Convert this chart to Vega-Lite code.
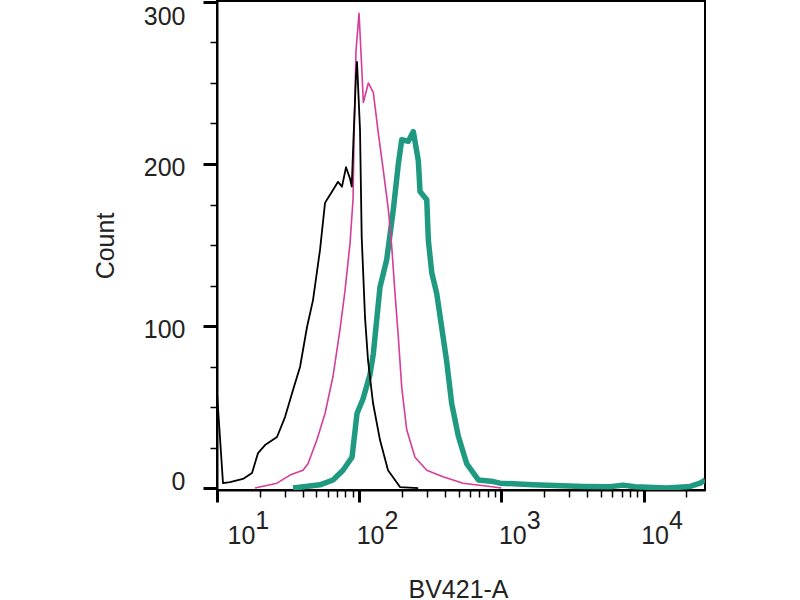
{
  "$schema": "https://vega.github.io/schema/vega-lite/v6.json",
  "width": 488,
  "height": 489,
  "autosize": {"type": "none"},
  "padding": {"left": 217, "top": 1, "right": 95, "bottom": 110},
  "background": "white",
  "config": {
    "view": {"stroke": "black", "strokeWidth": 2},
    "font": "Liberation Sans"
  },
  "data": {
    "values": [
      {"sample": "stained", "intensity": 34.23, "count": 0},
      {"sample": "stained", "intensity": 53.01, "count": 2},
      {"sample": "stained", "intensity": 65.43, "count": 5},
      {"sample": "stained", "intensity": 76.92, "count": 11},
      {"sample": "stained", "intensity": 89.0, "count": 19},
      {"sample": "stained", "intensity": 96.5, "count": 46},
      {"sample": "stained", "intensity": 106.3, "count": 55},
      {"sample": "stained", "intensity": 119.1, "count": 70},
      {"sample": "stained", "intensity": 125.7, "count": 83},
      {"sample": "stained", "intensity": 140.0, "count": 124},
      {"sample": "stained", "intensity": 156.1, "count": 141},
      {"sample": "stained", "intensity": 173.8, "count": 172},
      {"sample": "stained", "intensity": 188.4, "count": 200},
      {"sample": "stained", "intensity": 199.1, "count": 215},
      {"sample": "stained", "intensity": 221.5, "count": 214},
      {"sample": "stained", "intensity": 240.2, "count": 220},
      {"sample": "stained", "intensity": 260.4, "count": 202},
      {"sample": "stained", "intensity": 267.7, "count": 183},
      {"sample": "stained", "intensity": 298.4, "count": 178},
      {"sample": "stained", "intensity": 306.2, "count": 153},
      {"sample": "stained", "intensity": 323.6, "count": 133},
      {"sample": "stained", "intensity": 350.8, "count": 120},
      {"sample": "stained", "intensity": 380.4, "count": 99},
      {"sample": "stained", "intensity": 412.3, "count": 78},
      {"sample": "stained", "intensity": 447.3, "count": 52},
      {"sample": "stained", "intensity": 497.8, "count": 32},
      {"sample": "stained", "intensity": 570.2, "count": 15},
      {"sample": "stained", "intensity": 688.0, "count": 5},
      {"sample": "stained", "intensity": 877.0, "count": 4},
      {"sample": "stained", "intensity": 977.6, "count": 3},
      {"sample": "stained", "intensity": 1668, "count": 2},
      {"sample": "stained", "intensity": 3748, "count": 1},
      {"sample": "stained", "intensity": 5803, "count": 0.8},
      {"sample": "stained", "intensity": 7164, "count": 1.8},
      {"sample": "stained", "intensity": 8700, "count": 0.8},
      {"sample": "stained", "intensity": 14610, "count": 0},
      {"sample": "stained", "intensity": 21210, "count": 1},
      {"sample": "stained", "intensity": 24930, "count": 3},
      {"sample": "stained", "intensity": 27030, "count": 5},

      {"sample": "isotype", "intensity": 18.5, "count": 0},
      {"sample": "isotype", "intensity": 26.42, "count": 3},
      {"sample": "isotype", "intensity": 32.62, "count": 8},
      {"sample": "isotype", "intensity": 40.25, "count": 11},
      {"sample": "isotype", "intensity": 43.65, "count": 15},
      {"sample": "isotype", "intensity": 50.5, "count": 30},
      {"sample": "isotype", "intensity": 57.49, "count": 46},
      {"sample": "isotype", "intensity": 65.43, "count": 69},
      {"sample": "isotype", "intensity": 73.28, "count": 98},
      {"sample": "isotype", "intensity": 79.47, "count": 122},
      {"sample": "isotype", "intensity": 86.16, "count": 151},
      {"sample": "isotype", "intensity": 90.45, "count": 178},
      {"sample": "isotype", "intensity": 91.94, "count": 215},
      {"sample": "isotype", "intensity": 94.95, "count": 270},
      {"sample": "isotype", "intensity": 99.68, "count": 293},
      {"sample": "isotype", "intensity": 104.1, "count": 260},
      {"sample": "isotype", "intensity": 106.9, "count": 238},
      {"sample": "isotype", "intensity": 115.9, "count": 250},
      {"sample": "isotype", "intensity": 125.7, "count": 244},
      {"sample": "isotype", "intensity": 136.2, "count": 219},
      {"sample": "isotype", "intensity": 147.7, "count": 196},
      {"sample": "isotype", "intensity": 160.2, "count": 172},
      {"sample": "isotype", "intensity": 169.3, "count": 149},
      {"sample": "isotype", "intensity": 178.6, "count": 120},
      {"sample": "isotype", "intensity": 188.4, "count": 93},
      {"sample": "isotype", "intensity": 199.1, "count": 62},
      {"sample": "isotype", "intensity": 215.8, "count": 36},
      {"sample": "isotype", "intensity": 246.8, "count": 19},
      {"sample": "isotype", "intensity": 298.4, "count": 11},
      {"sample": "isotype", "intensity": 388.5, "count": 7},
      {"sample": "isotype", "intensity": 537.0, "count": 3},
      {"sample": "isotype", "intensity": 831.5, "count": 1},
      {"sample": "isotype", "intensity": 1000, "count": 0},

      {"sample": "unstained", "intensity": 10, "count": 59},
      {"sample": "unstained", "intensity": 11.02, "count": 3},
      {"sample": "unstained", "intensity": 12.34, "count": 3.7},
      {"sample": "unstained", "intensity": 15.23, "count": 5.6},
      {"sample": "unstained", "intensity": 17.63, "count": 9.3},
      {"sample": "unstained", "intensity": 19.43, "count": 21.6},
      {"sample": "unstained", "intensity": 21.76, "count": 26.5},
      {"sample": "unstained", "intensity": 26.42, "count": 31.5},
      {"sample": "unstained", "intensity": 30.08, "count": 43.8},
      {"sample": "unstained", "intensity": 34.23, "count": 60.5},
      {"sample": "unstained", "intensity": 38.35, "count": 74.7},
      {"sample": "unstained", "intensity": 42.95, "count": 99.4},
      {"sample": "unstained", "intensity": 47.33, "count": 116},
      {"sample": "unstained", "intensity": 53.01, "count": 147},
      {"sample": "unstained", "intensity": 57.49, "count": 176},
      {"sample": "unstained", "intensity": 60.33, "count": 179},
      {"sample": "unstained", "intensity": 65.43, "count": 184},
      {"sample": "unstained", "intensity": 70.95, "count": 189},
      {"sample": "unstained", "intensity": 75.68, "count": 186},
      {"sample": "unstained", "intensity": 80.77, "count": 198},
      {"sample": "unstained", "intensity": 86.16, "count": 191},
      {"sample": "unstained", "intensity": 88.6, "count": 186},
      {"sample": "unstained", "intensity": 90.9, "count": 213},
      {"sample": "unstained", "intensity": 94.95, "count": 255},
      {"sample": "unstained", "intensity": 96.5, "count": 263},
      {"sample": "unstained", "intensity": 101.3, "count": 221},
      {"sample": "unstained", "intensity": 104.1, "count": 155},
      {"sample": "unstained", "intensity": 109.9, "count": 105},
      {"sample": "unstained", "intensity": 115.3, "count": 79},
      {"sample": "unstained", "intensity": 125.0, "count": 52.5},
      {"sample": "unstained", "intensity": 140.0, "count": 29.6},
      {"sample": "unstained", "intensity": 159.4, "count": 11},
      {"sample": "unstained", "intensity": 193.6, "count": 0.6},
      {"sample": "unstained", "intensity": 260, "count": 0}
    ]
  },
  "encoding": {
    "x": {
      "field": "intensity",
      "type": "quantitative",
      "scale": {"type": "log", "domain": [10, 27000], "nice": false},
      "axis": {
        "orient": "bottom",
        "grid": false,
        "values": [10, 20, 30, 40, 50, 60, 70, 80, 90, 100, 200, 300, 400, 500, 600, 700, 800, 900, 1000, 2000, 3000, 4000, 5000, 6000, 7000, 8000, 9000, 10000, 20000],
        "labelExpr": "indexof([10, 100, 1000, 10000], datum.value) >= 0 ? ['\u200b\u00a0\u00a0\u00a0\u00a0' + round(log(datum.value) / LN10), '10'] : ''",
        "labelOverlap": false,
        "labelFlush": false,
        "labelAlign": "left",
        "labelBaseline": "alphabetic",
        "labelLineHeight": 15,
        "labelPadding": 26,
        "labelOffset": {"condition": {"test": "datum.value == 10", "value": 10}, "value": -3},
        "labelFont": "Liberation Sans",
        "labelFontSize": 25,
        "labelColor": "#222222",
        "domainColor": "black",
        "domainWidth": 2,
        "tickColor": "black",
        "tickSize": {"condition": {"test": "indexof([10, 100, 1000, 10000], datum.value) >= 0", "value": 12}, "value": 7},
        "tickWidth": {"condition": {"test": "indexof([10, 100, 1000, 10000], datum.value) >= 0", "value": 3}, "value": 1.5},
        "title": "BV421-A",
        "titleFont": "Liberation Sans",
        "titleFontSize": 25,
        "titleFontWeight": "normal",
        "titleColor": "#222222",
        "titleAlign": "center",
        "titleBaseline": "alphabetic",
        "titleX": 241,
        "titleY": 107
      }
    },
    "y": {
      "field": "count",
      "type": "quantitative",
      "scale": {"domain": [-1.2, 300.6], "nice": false, "zero": false},
      "axis": {
        "orient": "left",
        "grid": false,
        "values": [0, 25, 50, 75, 100, 125, 150, 175, 200, 225, 250, 275, 300],
        "labelExpr": "datum.value % 100 == 0 ? datum.label : ''",
        "labelOverlap": false,
        "labelFlush": false,
        "labelPadding": 18,
        "labelOffset": {"condition": [{"test": "datum.value == 300", "value": 15}, {"test": "datum.value == 0", "value": -7}], "value": 3},
        "labelFont": "Liberation Sans",
        "labelFontSize": 25,
        "labelColor": "#222222",
        "domainColor": "black",
        "domainWidth": 2,
        "tickColor": "black",
        "tickSize": {"condition": {"test": "datum.value % 100 == 0", "value": 14}, "value": 7},
        "tickWidth": {"condition": {"test": "datum.value % 100 == 0", "value": 3}, "value": 1.5},
        "title": "Count",
        "titleFont": "Liberation Sans",
        "titleFontSize": 25,
        "titleFontWeight": "normal",
        "titleColor": "#222222",
        "titleBaseline": "alphabetic",
        "titleX": -104
      }
    }
  },
  "layer": [
    {
      "transform": [{"filter": "datum.sample == 'stained'"}],
      "mark": {"type": "line", "color": "#1F9A80", "strokeWidth": 5.5, "strokeJoin": "round", "clip": true}
    },
    {
      "transform": [{"filter": "datum.sample == 'isotype'"}],
      "mark": {"type": "line", "color": "#D63C99", "strokeWidth": 1.6, "strokeJoin": "round", "clip": true}
    },
    {
      "transform": [{"filter": "datum.sample == 'unstained'"}],
      "mark": {"type": "line", "color": "black", "strokeWidth": 1.8, "strokeJoin": "round", "clip": true}
    }
  ]
}
